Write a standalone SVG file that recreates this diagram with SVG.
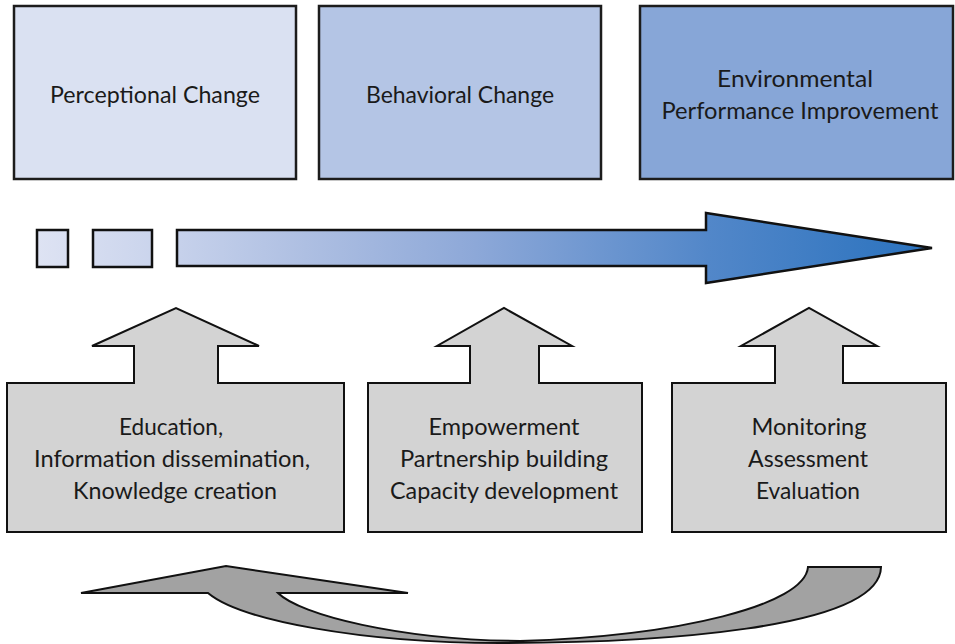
<svg xmlns="http://www.w3.org/2000/svg" width="955" height="644" viewBox="0 0 955 644">
<defs>
<linearGradient id="flow" gradientUnits="userSpaceOnUse" x1="37" y1="0" x2="932" y2="0">
<stop offset="0" stop-color="#DEE3F3"/>
<stop offset="0.16" stop-color="#C6D1EB"/>
<stop offset="0.30" stop-color="#AEBFE2"/>
<stop offset="0.49" stop-color="#8DA8D8"/>
<stop offset="0.75" stop-color="#5287C9"/>
<stop offset="1" stop-color="#2A72BE"/>
</linearGradient>
<style>
.top{stroke:#1c1c1c;stroke-width:2.5}
.house{fill:#D3D3D3;stroke:#111;stroke-width:2;stroke-linejoin:miter}
.flow{fill:url(#flow);stroke:#111;stroke-width:2.5}
.loop{fill:#A2A2A2;stroke:#111;stroke-width:2;stroke-linejoin:miter}
text{font-family:Lato,"Open Sans","Liberation Sans",sans-serif;font-size:23px;fill:#1a1a1a;text-anchor:middle}
</style>
</defs>
<rect width="955" height="644" fill="#fff"/>
<g id="perceptional">
<rect class="top" x="14" y="6" width="282" height="173" fill="#DAE1F2"/>
<text x="155" y="103" textLength="210" lengthAdjust="spacingAndGlyphs">Perceptional Change</text>
</g>
<g id="behavioral">
<rect class="top" x="319" y="6" width="282" height="173" fill="#B4C5E5"/>
<text x="460" y="103" textLength="188" lengthAdjust="spacingAndGlyphs">Behavioral Change</text>
</g>
<g id="environmental">
<rect class="top" x="640" y="6" width="313" height="173" fill="#87A6D7"/>
<text x="795" y="87" textLength="156" lengthAdjust="spacingAndGlyphs">Environmental</text>
<text x="800" y="119" textLength="277" lengthAdjust="spacingAndGlyphs">Performance Improvement</text>
</g>
<g id="progress">
<rect class="flow" x="37" y="230" width="31" height="37"/>
<rect class="flow" x="93" y="230" width="59" height="37"/>
<path class="flow" d="M177,230 L706,230 L706,213 L932,248 L706,283 L706,266 L177,266 Z"/>
</g>
<g id="education">
<path class="house" d="M7,383 L134,383 L134,346 L92,346 L176,308 L259,346 L218,346 L218,383 L344,383 L344,532 L7,532 Z"/>
<text x="171" y="435" textLength="104" lengthAdjust="spacingAndGlyphs">Education,</text>
<text x="172" y="467" textLength="276" lengthAdjust="spacingAndGlyphs">Information dissemination,</text>
<text x="175" y="499" textLength="204" lengthAdjust="spacingAndGlyphs">Knowledge creation</text>
</g>
<g id="empowerment">
<path class="house" d="M368,383 L470,383 L470,346 L437,346 L504,308 L572,346 L539,346 L539,383 L642,383 L642,532 L368,532 Z"/>
<text x="504" y="435" textLength="151" lengthAdjust="spacingAndGlyphs">Empowerment</text>
<text x="504" y="467" textLength="208" lengthAdjust="spacingAndGlyphs">Partnership building</text>
<text x="504" y="499" textLength="228" lengthAdjust="spacingAndGlyphs">Capacity development</text>
</g>
<g id="monitoring">
<path class="house" d="M672,383 L775,383 L775,346 L741,346 L809,308 L877,346 L843,346 L843,383 L946,383 L946,532 L672,532 Z"/>
<text x="809" y="435" textLength="115" lengthAdjust="spacingAndGlyphs">Monitoring</text>
<text x="808" y="467" textLength="120" lengthAdjust="spacingAndGlyphs">Assessment</text>
<text x="808" y="499" textLength="104" lengthAdjust="spacingAndGlyphs">Evaluation</text>
</g>
<g id="connectors">
<path class="loop" d="M208,593 C240,620 360,643 500,643 C650,643 880,630 881,567 L808,567 C805,605 680,636 520,641 C400,640 300,615 278,593 L408,593 L226,566 L81,593 Z"/>
</g>
</svg>
